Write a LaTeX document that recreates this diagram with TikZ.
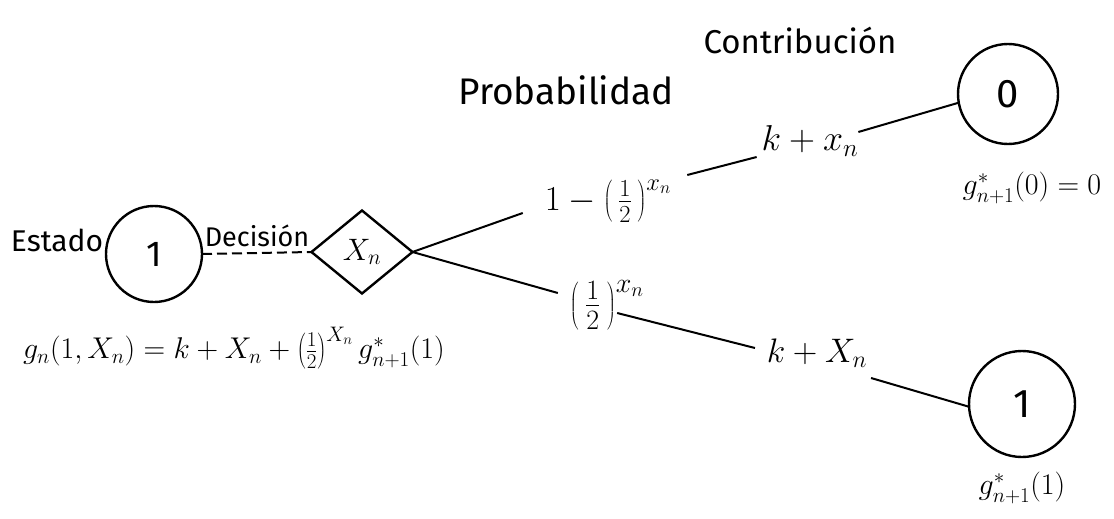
\RequirePackage{fix-cm}
\documentclass[tikz,border=0pt]{standalone}
\usepackage{fontspec}
\setmainfont{Fira Sans}
\usetikzlibrary{shapes.geometric}
\begin{document}
\begin{tikzpicture}[x=1pt,y=-1pt,
  every node/.style={inner sep=0pt,outer sep=0pt},
  stnode/.style={draw,line width=2.4pt,circle,minimum size=#1},
  dec/.style={draw,line width=2.4pt,diamond,minimum width=101pt,minimum height=83pt,aspect=1.22,font=\fontsize{31}{33}\selectfont},
  lbl/.style={font=\fontsize{30}{32}\selectfont},
  link/.style={line width=2pt}]
\useasboundingbox (0,0) rectangle (1114,519);
\fill[white] (0,0) rectangle (1114,519);
% titles
\node[font=\fontsize{33}{35}\selectfont] (contrib) at (800,40) {Contribución};
\node[font=\fontsize{37}{39}\selectfont] (prob) at (566,90) {Probabilidad};
% states
\node[font=\fontsize{30}{32}\selectfont] (estado) at (57,240) {Estado};
\node[stnode=96pt,font=\fontsize{36}{38}\selectfont] (s1) at (154,254) {1};
\node[font=\fontsize{27}{29}\selectfont,anchor=base] (decl) at (257,246) {Decisión};
\node[dec] (d) at (362,252) {$X_n$};
\node[stnode=100pt,font=\fontsize{40}{42}\selectfont] (s0) at (1008,94) {0};
\node[stnode=106pt,font=\fontsize{40}{42}\selectfont] (s1b) at (1022,404) {1};
% labels
\node[font=\fontsize{35}{37}\selectfont] (p1) at (608,201) {$1-\left(\,\frac{1}{2}\,\right)^{x_n}$};
\node[font=\fontsize{36}{38}\selectfont] (c1) at (810,141) {$k+x_n$};
\node[font=\fontsize{40}{42}\selectfont] (p2) at (607,305) {$\left(\,\frac{1}{2}\,\right)^{x_n}$};
\node[font=\fontsize{34}{36}\selectfont] (c2) at (817,353) {$k+X_n$};
\node[lbl] (g0) at (1032,188) {$g^*_{n+1}(0)=0$};
\node[lbl] (g1) at (1022,488) {$g^*_{n+1}(1)$};
\node[lbl] (f) at (234,348) {$g_n(1,X_n)=k+X_n+\left(\frac{1}{2}\right)^{X_n}g^*_{n+1}(1)$};
% connectors
\draw[link,dashed,dash pattern=on 10pt off 5pt] (s1.east) -- (d.west);
\draw[link] (d.east) -- ([shift={(-22,12)}]p1.west);
\draw[link] ([shift={(16,-26)}]p1.east) -- ([shift={(-5,16)}]c1.west);
\draw[link] ([shift={(0,-9)}]c1.east) -- (s0.190);
\draw[link] (d.east) -- ([shift={(-12,-12)}]p2.west);
\draw[link] ([shift={(-27,8)}]p2.east) -- ([shift={(-12,-5)}]c2.west);
\draw[link] ([shift={(4,25)}]c2.east) -- (s1b.183);
\end{tikzpicture}
\end{document}
